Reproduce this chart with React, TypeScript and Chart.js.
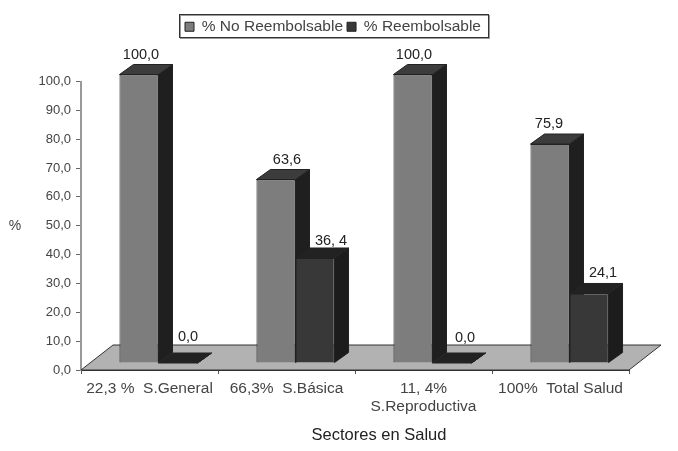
import React, { useEffect, useRef } from "react";
import { Chart, registerables } from "chart.js";

Chart.register(...registerables);

const categories = [
  "22,3 %  S.General",
  "66,3%  S.Básica",
  ["11, 4%", "S.Reproductiva"],
  "100%  Total Salud",
];
const noReembolsable = [100.0, 63.6, 100.0, 75.9];
const reembolsable = [0.0, 36.4, 0.0, 24.1];
const noReembolsableText = ["100,0", "63,6", "100,0", "75,9"];
const reembolsableText = ["0,0", "36, 4", "0,0", "24,1"];
const seriesNames = ["% No Reembolsable", "% Reembolsable"];
const xTitle = "Sectores en Salud";
const yTitle = "%";

const FONT = '"Liberation Sans", Arial, sans-serif';
const TEXT = "#444444";
const FRONT = ["#7d7d7d", "#383838"];
const TOP = ["#3c3c3c", "#222222"];
const SIDE = ["#1f1f1f", "#1c1c1c"];
const DX = 9, DY = -7;
const DEPTH_X = 14, DEPTH_Y = -10;
const FLOOR_X = 32, FLOOR_Y = -25;
const labelShift = [
  [[2, -20], [11, -20], [1, -20], [-1, -20]],
  [[10, -26], [16, -17], [13, -25], [14, -20]],
];

const poly = (ctx: CanvasRenderingContext2D, pts: number[][], fill: string, stroke = "#222") => {
  ctx.beginPath();
  pts.forEach(([x, y], i) => (i ? ctx.lineTo(x, y) : ctx.moveTo(x, y)));
  ctx.closePath();
  ctx.fillStyle = fill;
  ctx.fill();
  ctx.strokeStyle = stroke;
  ctx.lineWidth = 1;
  ctx.stroke();
};

const threeD = {
  id: "threeD",
  afterLayout(chart: any) {
    const l = chart.legend;
    const h = l.bottom - l.top;
    l.top = 15;
    l.bottom = 15 + h;
    l.left = 181;
  },
  beforeDatasetsDraw(chart: any) {
    const { ctx, chartArea: a } = chart;
    ctx.save();
    poly(
      ctx,
      [
        [a.left, a.bottom],
        [a.left + FLOOR_X, a.bottom + FLOOR_Y],
        [a.right + FLOOR_X, a.bottom + FLOOR_Y],
        [a.right, a.bottom],
      ],
      "#b2b2b2",
      "#333"
    );
    ctx.restore();
  },
  // The library paints the first dataset last; the 3D faces need it painted first.
  beforeDatasetDraw() {
    return false;
  },
  afterDatasetsDraw(chart: any) {
    const { ctx } = chart;
    [0, 1].forEach((i) => {
      const meta = chart.getDatasetMeta(i);
      ctx.save();
      ctx.translate(DX, DY);
      meta.data.forEach((b: any) => {
        const l = b.x - b.width / 2, r = b.x + b.width / 2;
        poly(ctx, [[r, b.y], [r + DEPTH_X, b.y + DEPTH_Y], [r + DEPTH_X, b.base + DEPTH_Y], [r, b.base]], SIDE[i]);
        poly(ctx, [[l, b.y], [l + DEPTH_X, b.y + DEPTH_Y], [r + DEPTH_X, b.y + DEPTH_Y], [r, b.y]], TOP[i]);
      });
      meta.controller.draw();
      ctx.restore();
    });
  },
  afterDraw(chart: any) {
    const { ctx } = chart;
    ctx.save();
    // legend frame
    ctx.strokeStyle = "#9a9a9a";
    ctx.lineWidth = 1;
    ctx.strokeRect(180.5, 15.5, 309, 23);
    ctx.strokeStyle = "#333";
    ctx.strokeRect(179.5, 14.5, 309, 23);
    // value labels
    ctx.font = `14.5px ${FONT}`;
    ctx.textAlign = "center";
    ctx.textBaseline = "middle";
    ctx.fillStyle = "#222";
    [noReembolsableText, reembolsableText].forEach((texts, i) => {
      chart.getDatasetMeta(i).data.forEach((b: any, j: number) => {
        const [sx, sy] = labelShift[i][j];
        ctx.fillText(texts[j], b.x + DX + sx, b.y + DY + sy);
      });
    });
    // axis titles
    ctx.font = `14px ${FONT}`;
    ctx.fillStyle = TEXT;
    ctx.fillText(yTitle, 15, 226);
    ctx.font = `16.5px ${FONT}`;
    ctx.fillStyle = "#222";
    ctx.fillText(xTitle, 379, 435);
    ctx.restore();
  },
};

export default function App() {
  const ref = useRef<HTMLCanvasElement>(null);
  useEffect(() => {
    const chart = new Chart(ref.current!, {
      type: "bar",
      data: {
        labels: categories as any,
        datasets: [
          { label: seriesNames[0], data: noReembolsable, backgroundColor: FRONT[0], borderColor: "#222", borderWidth: 1 },
          { label: seriesNames[1], data: reembolsable, backgroundColor: FRONT[1], borderColor: "#222", borderWidth: 1 },
        ],
      },
      plugins: [threeD],
      options: {
        animation: false,
        responsive: false,
        layout: { padding: { left: 0, right: 49, top: 52, bottom: 0 } },
        datasets: { bar: { categoryPercentage: 0.57, barPercentage: 1 } },
        scales: {
          x: {
            grid: { display: true, drawOnChartArea: false, offset: true, color: "#555", tickLength: 4, tickColor: "#555" },
            border: { color: "#333", width: 2 },
            ticks: { color: TEXT, font: { family: FONT, size: 15.5, lineHeight: 1.15 }, maxRotation: 0, autoSkip: false, padding: 6 },
            afterFit: (s: any) => { s.height = 81; },
          },
          y: {
            min: 0,
            max: 100,
            grid: { drawOnChartArea: false, color: "#666", tickLength: 5 },
            border: { color: "#999", width: 2 },
            ticks: {
              stepSize: 10,
              color: TEXT,
              font: { family: FONT, size: 13 },
              padding: 5,
              callback: (v: any) => Number(v).toFixed(1).replace(".", ","),
            },
            afterFit: (s: any) => { s.width = 81; },
          },
        },
        plugins: {
          tooltip: { enabled: false },
          legend: {
            position: "top",
            align: "start",
            labels: { color: TEXT, font: { family: FONT, size: 15.5 }, boxWidth: 9, boxHeight: 9, padding: 4 },
          },
        },
      },
    } as any);
    return () => chart.destroy();
  }, []);
  return (
    <div style={{ position: "fixed", left: 0, top: 0, width: 678, height: 451, background: "#fff" }}>
      <canvas ref={ref} width={678} height={451} style={{ display: "block", filter: "blur(0.5px)" }} />
    </div>
  );
}
